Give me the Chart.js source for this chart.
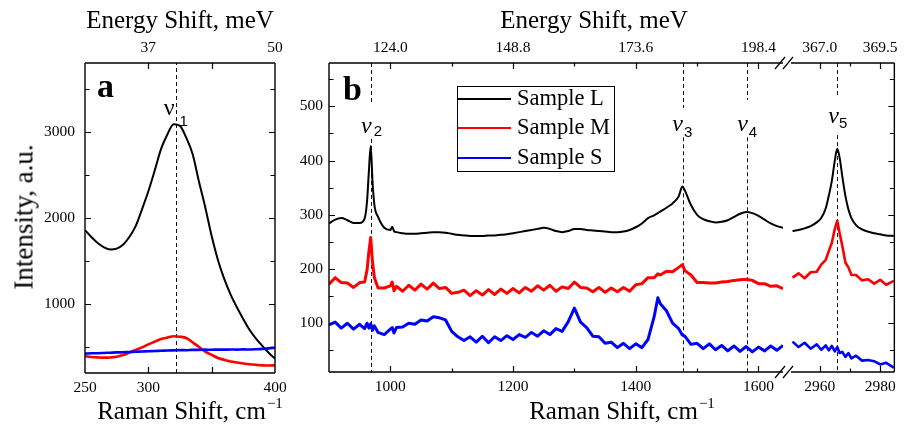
<!DOCTYPE html>
<html>
<head>
<meta charset="utf-8">
<script src="https://cdn.jsdelivr.net/npm/chart.js@4.4.1/dist/chart.umd.min.js"></script>
<style>
html,body{margin:0;padding:0;background:#fff;}
#wrap{position:relative;width:904px;height:428px;overflow:hidden;background:#fff;}
#wrap canvas{position:absolute;left:0;top:0;}
.t{position:absolute;white-space:nowrap;color:#000;font-family:"Liberation Serif","Times New Roman",serif;line-height:1;}
.sup{font-size:15px;position:relative;top:-11px;margin-left:1px;}
</style>
</head>
<body>
<div id="wrap">
<canvas id="cA" width="904" height="428"></canvas>
<canvas id="cB1" width="904" height="428"></canvas>
<canvas id="cB2" width="904" height="428"></canvas>
</div>
<script>
// ---------------- DATA ----------------
const seriesNames = ['Sample L', 'Sample M', 'Sample S'];
const seriesColors = ['#000000', '#ff0000', '#0000ff'];

// Panel a (Raman shift, cm-1)
const ramanA = [250,255,260,265,270,275,280,285,290,295,300,305,310,315,320,325,330,335,340,345,350,355,360,365,370,375,380,385,390,395,400];
const sampleL_A = [1860,1780,1710,1660,1635,1645,1690,1780,1905,2100,2310,2550,2800,2970,3090,3070,2930,2740,2420,2120,1790,1510,1290,1110,960,825,700,600,515,435,367];
const sampleM_A = [394,386,381,378,380,388,408,437,468,497,532,563,594,611,626,621,606,556,502,449,410,374,353,334,322,311,302,295,289,287,289];
const sampleS_A = [425,429,430,433,436,439,441,444,446,450,452,456,458,462,463,466,465,469,468,471,470,472,471,473,472,474,473,476,480,486,495];

// Panel b, first section
const ramanB1 = [900,910,920,930,940,950,958,962,965,968,971,974,980,990,1000,1003,1006,1010,
 1020,1030,1040,1050,1060,1070,1080,1090,1100,1110,
 1120,1130,1140,1150,1160,1170,1180,1190,1200,1210,
 1220,1230,1240,1250,1260,1270,1280,1290,1300,1310,
 1320,1330,1340,1350,1360,1370,1380,1390,1400,1410,
 1420,1430,1436,1440,1450,1460,1470,1476,
 1480,1490,1500,1510,1520,1530,1540,1550,1560,1570,1580,1590,1600,1610,1620,1630,1640];
const sampleL_B1 = [284,291,294,290,285,285,293,325,380,427,360,318,296,276,272,278,270,268,
 266,265,265,266,267,268,268,267,265,263,
 262,261,261,261,262,262,263,264,266,268,
 270,272,274,276,274,270,268,270,274,274,
 272,271,270,269,268,268,269,272,277,284,
 294,299,303,306,313,321,334,352,
 345,318,300,292,288,286,287,290,296,302,305,303,298,291,284,279,276];
const sampleM_B1 = [172,184,175,174,166,175,176,198,232,258,212,184,165,165,169,176,160,168,
 159,170,161,172,163,174,164,166,155,157,
 161,151,160,152,162,153,163,155,164,156,
 166,159,169,161,170,159,167,164,176,166,
 165,158,166,157,165,158,166,159,171,173,
 184,184,191,189,196,195,203,208,
 197,189,175,175,174,174,176,177,179,180,181,179,173,173,168,169,164];
const sampleS_B1 = [97,102,91,100,89,98,90,100,91,99,87,95,83,79,89,92,82,92,
 93,100,98,106,104,112,110,106,85,75,
 68,75,65,76,64,75,68,77,70,79,
 74,83,76,86,79,90,85,103,128,102,
 92,76,75,63,65,55,63,53,62,55,
 70,112,147,136,123,100,90,78,
 76,61,63,53,62,51,59,49,58,48,57,47,56,49,58,50,59];

// Panel b, second section
const ramanB2 = [2951,2953,2955,2957,2959,2960.5,2962,2963,2964,2965,2965.8,2966.6,2967.5,2968.5,2969.5,2970.5,2972,2974,2976,2978,2980,2982,2984.5];
const sampleL_B2 = [270,272,275,279,286,294,312,335,362,400,422,405,370,335,310,294,281,273,269,266,264,262,261];
const sampleM_B2 = [184,192,183,194,195,208,217,233,248,274,289,266,242,212,203,189,189,179,181,173,180,171,178];
const sampleS_B2 = [66,56,64,53,61,51,59,50,58,48,56,45,47,38,45,35,40,31,32,30,24,27,18];

// Tick labels
const xLabelsA = [250,300,400];
const yLabelsA = [1000,2000,3000];
const topTicksA = [300,400];
const topLabelsA = ['37','50'];
const xLabelsB1 = [1000,1200,1400,1600];
const topLabelsB1 = ['124.0','148.8','173.6','198.4'];
const xLabelsB2 = [2960,2980];
const topLabelsB2 = ['367.0','369.5'];
const yLabelsB = [100,200,300,400,500];

// Peak markers
const peaksA = [{x:321.5, n:'1'}];
const peaksB1 = [{x:968, n:'2'},{x:1477, n:'3'},{x:1581, n:'4'}];
const peaksB2 = [{x:2965.7, n:'5'}];

// ---------------- DRAWING ----------------
const F = '"Liberation Serif", "Times New Roman", serif';
const tickFont = {family: F, size: 15.5};

function pts(xs, ys){ return xs.map((x,i)=>({x:x, y:ys[i]})); }
function fixedTicks(arr){ return s => { s.ticks = arr.map(v=>({value:v})); }; }
function labelFrom(vals, labels){ return v => { const i = vals.indexOf(v); return i < 0 ? '' : labels[i]; }; }

const deco = {
  id: 'deco',
  beforeDatasetsDraw(chart, args, o) {
    const ctx = chart.ctx, xs = chart.scales.x, ys = chart.scales.y;
    ctx.save();
    ctx.strokeStyle = '#111'; ctx.lineWidth = 1; ctx.setLineDash([4,3]);
    (o.vlines || []).forEach(L => {
      const px = Math.round(xs.getPixelForValue(L.x)) + 0.5;
      L.segs.forEach(s => {
        ctx.beginPath();
        ctx.moveTo(px, ys.getPixelForValue(s[0]));
        ctx.lineTo(px, ys.getPixelForValue(s[1]));
        ctx.stroke();
      });
    });
    ctx.restore();
  },
  afterDraw(chart, args, o) {
    const ctx = chart.ctx, a = chart.chartArea, xs = chart.scales.x, ys = chart.scales.y;
    ctx.save();
    ctx.setLineDash([]);
    ctx.strokeStyle = '#000';
    ctx.lineWidth = 1.4;
    ctx.beginPath();
    ctx.moveTo(a.left, a.top); ctx.lineTo(a.right, a.top);
    ctx.moveTo(a.left, a.bottom); ctx.lineTo(a.right, a.bottom);
    if (o.left) { ctx.moveTo(a.left, a.top); ctx.lineTo(a.left, a.bottom); }
    if (o.right) { ctx.moveTo(a.right, a.top); ctx.lineTo(a.right, a.bottom); }
    ctx.stroke();
    ctx.lineWidth = 1.2;
    ctx.beginPath();
    const xt = (v, len) => { const p = Math.round(xs.getPixelForValue(v)) + 0.5; ctx.moveTo(p, a.bottom); ctx.lineTo(p, a.bottom - len); ctx.moveTo(p, a.top); ctx.lineTo(p, a.top + len); };
    const yt = (v, len) => { const p = Math.round(ys.getPixelForValue(v)) + 0.5;
      if (o.left) { ctx.moveTo(a.left, p); ctx.lineTo(a.left + len, p); }
      if (o.right) { ctx.moveTo(a.right, p); ctx.lineTo(a.right - len, p); } };
    (o.xMajor || []).forEach(v => xt(v, 6));
    (o.xMinor || []).forEach(v => xt(v, 3.5));
    (o.yMajor || []).forEach(v => yt(v, 6));
    (o.yMinor || []).forEach(v => yt(v, 4.5));
    if (o.breakMarks) {
      [a.left - 11, a.left - 3].forEach(bx => {
        [a.top, a.bottom].forEach(by => { ctx.moveTo(bx - 5, by + 6); ctx.lineTo(bx + 5, by - 6); });
      });
    }
    ctx.stroke();
    // peak labels
    (o.labels || []).forEach(L => {
      const px = xs.getPixelForValue(L.x);
      const py = ys.getPixelForValue(L.ly);
      ctx.fillStyle = '#000';
      ctx.font = (L.italic ? 'italic ' : '') + '24px ' + F;
      ctx.textAlign = 'right'; ctx.textBaseline = 'alphabetic';
      ctx.fillText('\u03BD', px + L.dx, py);
      ctx.font = '15px "Liberation Sans", Arial, sans-serif';
      ctx.textAlign = 'left';
      ctx.fillText(L.n, px + L.sx, py + L.sy);
    });
    ctx.restore();
  }
};

function makeChart(id, c) {
  const datasets = c.series.map((ys, i) => ({
    label: seriesNames[i], data: pts(c.xs, ys), borderColor: seriesColors[i], backgroundColor: seriesColors[i],
    borderWidth: c.widths[i], pointRadius: 0, fill: false, tension: 0,
    cubicInterpolationMode: (c.smooth && c.smooth[i]) ? 'monotone' : 'default',
    borderJoinStyle: 'round', xAxisID: 'x', yAxisID: 'y'
  }));
  datasets.reverse(); // black drawn last (on top)
  const tk = (extra) => Object.assign({font: tickFont, color: '#000', autoSkip: false, maxRotation: 0, minRotation: 0}, extra);
  return new Chart(document.getElementById(id), {
    type: 'line',
    data: { datasets: datasets },
    plugins: [deco],
    options: {
      responsive: false, animation: false, devicePixelRatio: 1, events: [],
      layout: { padding: c.padding, autoPadding: false },
      plugins: { legend: {display: false}, tooltip: {enabled: false}, deco: c.deco },
      scales: {
        x: { type: 'linear', axis: 'x', position: 'bottom', min: c.xmin, max: c.xmax,
             afterFit: s => { s.height = c.bottomH; },
             afterBuildTicks: fixedTicks(c.xLabels),
             ticks: tk({padding: 6, callback: v => String(v)}),
             grid: {display: false, drawTicks: false}, border: {display: false} },
        xTop: { type: 'linear', axis: 'x', position: 'top', min: c.xmin, max: c.xmax,
             afterFit: s => { s.height = c.topH; },
             afterBuildTicks: fixedTicks(c.topVals),
             ticks: tk({padding: 6, callback: labelFrom(c.topVals, c.topLabels)}),
             grid: {display: false, drawTicks: false}, border: {display: false} },
        y: { type: 'linear', axis: 'y', position: 'left', min: c.ymin, max: c.ymax, display: c.yShow,
             afterFit: s => { s.width = c.leftW; },
             afterBuildTicks: fixedTicks(c.yLabels),
             ticks: tk({padding: c.yPad, callback: v => String(v)}),
             grid: {display: false, drawTicks: false}, border: {display: false} }
      }
    }
  });
}

const segFull = (lo, hi) => [[lo, hi]];

makeChart('cA', {
  xs: ramanA, series: [sampleL_A, sampleM_A, sampleS_A], widths: [2, 2.6, 2.6], smooth: [true, true, true],
  padding: {left: 0, right: 629, top: 0, bottom: 0},
  xmin: 250, xmax: 400, ymin: 200, ymax: 3800,
  leftW: 85, topH: 63, bottomH: 55, yShow: true, yPad: 10,
  xLabels: xLabelsA, yLabels: yLabelsA, topVals: topTicksA, topLabels: topLabelsA,
  deco: { left: true, right: true, xMajor: [300, 350], xMinor: [],
    yMajor: [1000, 2000, 3000], yMinor: [500, 1500, 2500, 3500],
    vlines: peaksA.map(p => ({x: p.x, segs: segFull(200, 3800)})),
    labels: peaksA.map(p => ({x: p.x, n: p.n, ly: 3196, italic: false, dx: -1, sx: 4, sy: 11})) }
});

makeChart('cB1', {
  xs: ramanB1, series: [sampleL_B1, sampleM_B1, sampleS_B1], widths: [2, 3, 3], smooth: [true, false, false],
  padding: {left: 0, right: 121, top: 0, bottom: 0},
  xmin: 900, xmax: 1640, ymin: 10, ymax: 580,
  leftW: 329, topH: 63, bottomH: 56, yShow: true, yPad: 6,
  xLabels: xLabelsB1, yLabels: yLabelsB, topVals: xLabelsB1, topLabels: topLabelsB1,
  deco: { left: true, right: false, xMajor: xLabelsB1, xMinor: [1100, 1300, 1500],
    yMajor: yLabelsB, yMinor: [50, 150, 250, 350, 450, 550],
    vlines: [
      {x: peaksB1[0].x, segs: [[580, 506], [440, 10]]},
      {x: peaksB1[1].x, segs: [[580, 497], [443, 10]]},
      {x: peaksB1[2].x, segs: [[580, 512], [443, 10]]}
    ],
    labels: [
      {x: peaksB1[0].x, n: peaksB1[0].n, ly: 451, italic: true, dx: 1, sx: 3, sy: 3},
      {x: peaksB1[1].x, n: peaksB1[1].n, ly: 455, italic: true, dx: 0, sx: 1, sy: 6},
      {x: peaksB1[2].x, n: peaksB1[2].n, ly: 455, italic: true, dx: 1, sx: 2, sy: 6}
    ] }
});

makeChart('cB2', {
  xs: ramanB2, series: [sampleL_B2, sampleM_B2, sampleS_B2], widths: [2, 2.6, 2.6], smooth: [true, false, false],
  padding: {left: 791, right: 3, top: 0, bottom: 0},
  xmin: 2950.5, xmax: 2984.7, ymin: 10, ymax: 580,
  leftW: 0, topH: 63, bottomH: 56, yShow: false, yPad: 6,
  xLabels: xLabelsB2, yLabels: yLabelsB, topVals: xLabelsB2, topLabels: topLabelsB2,
  deco: { left: false, right: true, breakMarks: true, xMajor: xLabelsB2, xMinor: [2970],
    yMajor: yLabelsB, yMinor: [50, 150, 250, 350, 450, 550],
    vlines: [{x: peaksB2[0].x, segs: [[580, 517], [447, 10]]}],
    labels: [{x: peaksB2[0].x, n: peaksB2[0].n, ly: 469, italic: true, dx: 2, sx: 2, sy: 5}] }
});

// ---------------- TEXT ----------------
const wrap = document.getElementById('wrap');
const texts = [
  {html: 'Energy Shift, meV', x: 180, base: 28, size: 25, center: true},
  {html: 'Energy Shift, meV', x: 594, base: 28, size: 25, center: true},
  {html: 'Raman Shift, cm<span class="sup">\u22121</span>', x: 190, base: 419, size: 25, center: true},
  {html: 'Raman Shift, cm<span class="sup">\u22121</span>', x: 622, base: 419, size: 25, center: true},
  {html: 'a', x: 97, base: 97, size: 34, bold: true},
  {html: 'b', x: 343, base: 100, size: 34, bold: true}
];
texts.forEach(t => {
  const d = document.createElement('div');
  d.className = 't'; d.innerHTML = t.html;
  d.style.fontSize = t.size + 'px';
  d.style.top = (t.base - 0.8375 * t.size) + 'px';
  d.style.left = t.x + 'px';
  if (t.center) d.style.transform = 'translateX(-50%)';
  if (t.bold) d.style.fontWeight = 'bold';
  wrap.appendChild(d);
});
const yt = document.createElement('div');
yt.className = 't'; yt.textContent = 'Intensity, a.u.';
yt.style.fontSize = '27px'; yt.style.left = '24px'; yt.style.top = '217px';
yt.style.transform = 'translate(-50%,-50%) rotate(-90deg)';
wrap.appendChild(yt);

// legend
const lg = document.createElement('div');
lg.style.cssText = 'position:absolute;left:457px;top:86px;width:156px;height:84px;border:1px solid #000;background:#fff;';
wrap.appendChild(lg);
const legendRows = [99, 128, 157.5];
seriesNames.forEach((name, i) => {
  const ln = document.createElement('div');
  ln.style.cssText = 'position:absolute;left:458px;width:53px;height:2px;background:' + seriesColors[i] + ';top:' + (legendRows[i] - 1) + 'px;';
  wrap.appendChild(ln);
  const tx = document.createElement('div');
  tx.className = 't'; tx.textContent = name;
  tx.style.fontSize = '22.5px'; tx.style.left = '517px';
  tx.style.top = (legendRows[i] + 7 - 0.8375 * 22.5) + 'px';
  wrap.appendChild(tx);
});
</script>
</body>
</html>
